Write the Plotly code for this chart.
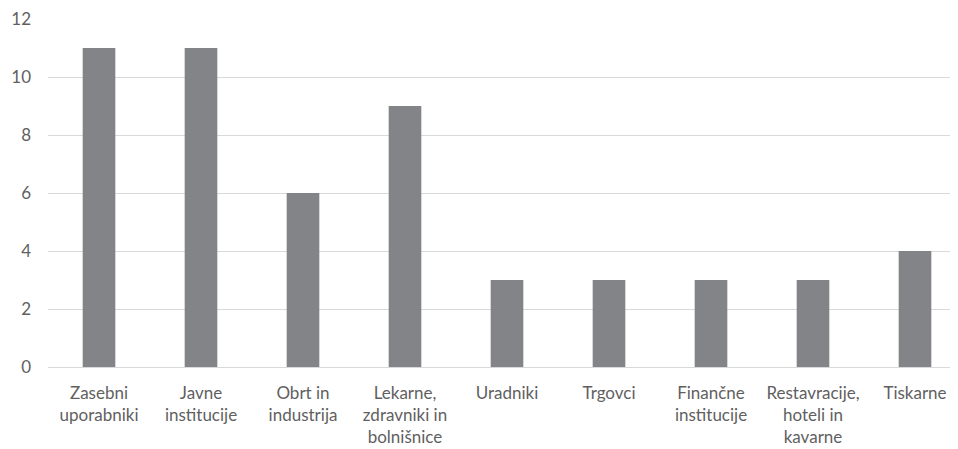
import plotly.graph_objects as go

categories = [
    "Zasebni<br>uporabniki",
    "Javne<br>institucije",
    "Obrt in<br>industrija",
    "Lekarne,<br>zdravniki in<br>bolnišnice",
    "Uradniki",
    "Trgovci",
    "Finančne<br>institucije",
    "Restavracije,<br>hoteli in<br>kavarne",
    "Tiskarne",
]
values = [11, 11, 6, 9, 3, 3, 3, 3, 4]
y_ticks = [0, 2, 4, 6, 8, 10, 12]

# page body has an 8px default margin, so figure is 8px smaller
W, H = 950, 441
ml, mr, mt, mb = 40, 0, 11, 82
step = 102.0
plot_w = W - ml - mr
x_idx = list(range(len(categories)))

fig = go.Figure(
    go.Bar(
        x=x_idx,
        y=values,
        marker=dict(color="#838487", line=dict(width=0)),
        width=0.32,
    )
)
fig.update_layout(
    width=W,
    height=H,
    margin=dict(l=ml, r=mr, t=mt, b=mb, autoexpand=False),
    paper_bgcolor="white",
    plot_bgcolor="white",
    showlegend=False,
    font=dict(family="Lato, Open Sans, sans-serif", size=17, color="#5f5f5f"),
)
fig.update_xaxes(
    range=[-0.5, -0.5 + plot_w / step],
    tickmode="array",
    tickvals=x_idx,
    ticktext=categories,
    showgrid=False,
    zeroline=False,
    showline=False,
    ticks="",
    tickangle=0,
    automargin=False,
    ticklabeloverflow="allow",
    ticklabelstandoff=14,
)
fig.update_yaxes(
    range=[0, 12],
    tickmode="array",
    tickvals=y_ticks,
    showgrid=True,
    gridcolor="#d9d9d9",
    gridwidth=1.3,
    zeroline=True,
    zerolinecolor="#d9d9d9",
    zerolinewidth=1.3,
    showline=False,
    ticks="",
    automargin=False,
    ticklabeloverflow="allow",
    ticklabelstandoff=16,
)
fig.write_html("out.html")
